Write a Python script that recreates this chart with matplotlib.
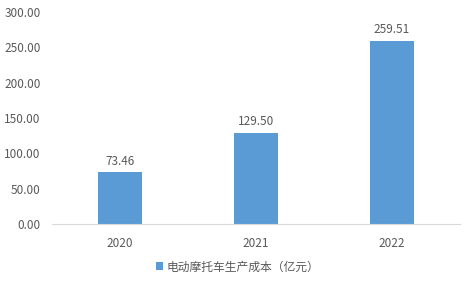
import matplotlib
matplotlib.use('Agg')
import matplotlib.pyplot as plt

plt.rcParams['font.family'] = ['Noto Sans CJK SC', 'DejaVu Sans']

years = ['2020', '2021', '2022']
cost = [73.46, 129.50, 259.51]
series_name = '电动摩托车生产成本（亿元）'
yticks = [0, 50, 100, 150, 200, 250, 300]

bar_color = '#5B9BD5'
text_color = '#595959'

fig = plt.figure(figsize=(4.75, 2.83), dpi=100)
ax = fig.add_axes([0.109, 0.208, 0.859, 0.75])

x = range(len(years))
bars = ax.bar(x, cost, width=0.32, color=bar_color, label=series_name)
for xi, v in zip(x, cost):
    ax.text(xi, v + 6, f'{v:.2f}', ha='center', va='bottom', fontsize=8.5, color=text_color)

ax.set_xlim(-0.5, len(years) - 0.5)
ax.set_ylim(0, 300)
ax.set_yticks(yticks)
ax.set_yticklabels([f'{t:.2f}' for t in yticks])
ax.set_xticks(list(x))
ax.set_xticklabels(years)
ax.tick_params(axis='both', length=0, labelsize=8.5, colors=text_color)
ax.tick_params(axis='x', pad=9)
ax.tick_params(axis='y', pad=8)

for s in ['top', 'right', 'left']:
    ax.spines[s].set_visible(False)
ax.spines['bottom'].set_color('#D9D9D9')

fig.legend(handles=[bars], labels=[series_name], loc='center', bbox_to_anchor=(0.5, 0.057),
           frameon=False, fontsize=8.5, labelcolor=text_color, handlelength=0.6,
           handleheight=0.6, handletextpad=0.3)

fig.savefig('out.png', dpi=100)
